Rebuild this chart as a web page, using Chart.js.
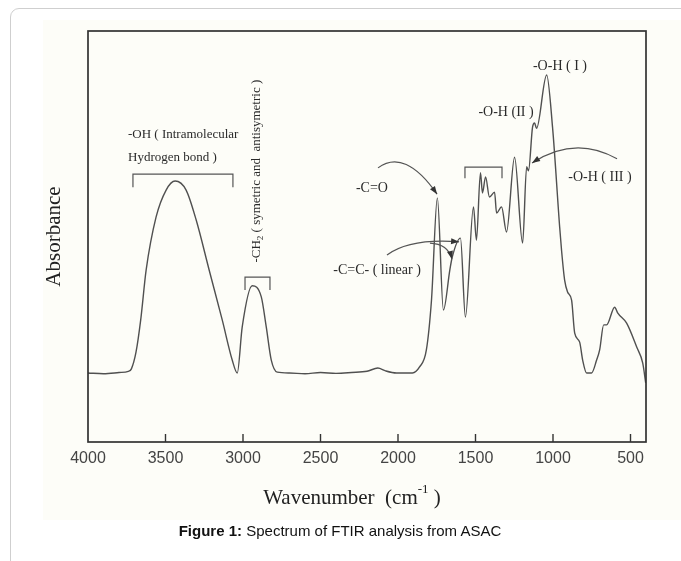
<!DOCTYPE html>
<html>
<head>
<meta charset="utf-8">
<script src="https://cdn.jsdelivr.net/npm/chart.js@4"></script>
<style>
body{margin:0;background:#fff;width:681px;height:561px;overflow:hidden;position:relative;font-family:"Liberation Sans",Arial,sans-serif}
#frame{position:absolute;left:10px;top:8px;width:720px;height:600px;border:1px solid #cfcfcf;border-radius:9px}
#paper{position:absolute;left:43px;top:20px;width:638px;height:500px;background:#fdfdf8}
#c{position:absolute;left:0;top:0}
#cap{position:absolute;left:0;width:680px;top:522px;text-align:center;font-size:15px;color:#111}
</style>
</head>
<body>
<div id="frame"></div>
<div id="paper"></div>
<canvas id="c" width="681" height="561"></canvas>
<div id="cap"><b>Figure 1:</b> Spectrum of FTIR analysis from ASAC</div>
<script>
// FTIR spectrum (wavenumber cm-1, absorbance a.u.)
let wavenumber=[4000,3900,3800,3740,3720,3690,3660,3625,3561,3496,3438,3367,3302,3218,3134,3070,3037,
3005,2941,2882,2850,2818,2779,2700,2600,2500,2400,2300,2200,2130,2080,2010,1907,1862,1817,1784,
1746,1707,1665,1650,1597,1565,1513,1494,1468,1455,1435,1410,1377,1364,1332,1300,1248,1196,1170,
1158,1132,1119,1106,1041,1003,957,945,925,906,880,860,828,809,783,751,718,699,673,654,602,583,525,460,421,402]
let absorbance=[16.8,16.6,16.9,17.2,17.8,21.9,29.7,41.8,54.7,61.3,63.5,61.3,54.0,41.8,29.7,20.0,16.8,
28.0,38.0,35.3,28.0,20.0,17.0,16.8,16.6,16.9,16.7,16.9,17.2,18.0,17.3,16.8,16.8,18.2,22.4,34.5,
59.4,32.1,42.0,45.0,49.6,30.4,57.2,49.1,65.5,60.6,64.5,59.6,60.8,55.7,57.2,51.1,69.3,48.4,67.0,
66.0,76.6,77.6,76.3,89.3,76.6,52.3,46.7,39.4,36.5,34.5,26.5,24.3,20.0,16.8,16.8,20.0,22.4,28.5,28.5,32.8,31.4,28.9,23.1,19.2,14.4]
let tickValues=[4000,3500,3000,2500,2000,1500,1000,500]

let serif='"Liberation Serif","Times New Roman",serif'

// labels, brackets and arrows, placed in data units
let notes={
texts:[
{t:"-OH ( Intramolecular",x:3742,y:74.7,align:"left",size:13},
{t:"Hydrogen bond )",x:3742,y:69.3,align:"left",size:13},
{t:"-C=O",x:2168,y:61.8,align:"center",size:14},
{t:"-C=C- ( linear )",x:2135,y:41.8,align:"center",size:14},
{t:"-O-H ( I )",x:955,y:91.5,align:"center",size:14},
{t:"-O-H (II )",x:1303,y:80.3,align:"center",size:14},
{t:"-O-H ( III )",x:697,y:64.5,align:"center",size:14}
],
brackets:[
{x1:3710,x2:3065,y:65.2,leg:62.0},
{x1:2987,x2:2826,y:40.1,leg:37.0},
{x1:1568,x2:1329,y:66.9,leg:64.2}
],
arrows:[
{p0:[2129,66.7],c:[1955,71.5],p1:[1748,60.3]},
{p0:[2071,45.5],c:[1923,49.6],p1:[1606,48.7]},
{p0:[1794,48.4],c:[1677,48.2],p1:[1652,44.5]},
{p0:[587,68.9],c:[858,74.7],p1:[1135,67.9]}
]
}

let decor={
id:"decor",
afterDraw(chart){
let ctx=chart.ctx
let a=chart.chartArea
let sx=chart.scales.x, sy=chart.scales.y
let X=v=>sx.getPixelForValue(v), Y=v=>sy.getPixelForValue(v)
ctx.save()
// frame
ctx.strokeStyle="#333"
ctx.lineWidth=1.7
ctx.strokeRect(a.left,a.top,a.right-a.left,a.bottom-a.top)
// inward ticks
ctx.lineWidth=1.4
tickValues.forEach(v=>{
if(v==sx.max) return
ctx.beginPath()
ctx.moveTo(X(v),a.bottom)
ctx.lineTo(X(v),a.bottom-8)
ctx.stroke()
})
// brackets
ctx.strokeStyle="#555"
ctx.lineWidth=1.2
notes.brackets.forEach(b=>{
ctx.beginPath()
ctx.moveTo(X(b.x1),Y(b.leg))
ctx.lineTo(X(b.x1),Y(b.y))
ctx.lineTo(X(b.x2),Y(b.y))
ctx.lineTo(X(b.x2),Y(b.leg))
ctx.stroke()
})
// arrows
ctx.fillStyle="#333"
notes.arrows.forEach(r=>{
let x0=X(r.p0[0]),y0=Y(r.p0[1]),cx=X(r.c[0]),cy=Y(r.c[1]),x1=X(r.p1[0]),y1=Y(r.p1[1])
ctx.beginPath()
ctx.moveTo(x0,y0)
ctx.quadraticCurveTo(cx,cy,x1,y1)
ctx.stroke()
let ang=Math.atan2(y1-cy,x1-cx)
ctx.beginPath()
ctx.moveTo(x1,y1)
ctx.lineTo(x1-8*Math.cos(ang)+3*Math.sin(ang),y1-8*Math.sin(ang)-3*Math.cos(ang))
ctx.lineTo(x1-8*Math.cos(ang)-3*Math.sin(ang),y1-8*Math.sin(ang)+3*Math.cos(ang))
ctx.closePath()
ctx.fill()
})
// text labels
ctx.fillStyle="#2a2a2a"
ctx.textBaseline="middle"
notes.texts.forEach(t=>{
ctx.font=t.size+"px "+serif
ctx.textAlign=t.align
ctx.fillText(t.t,X(t.x),Y(t.y))
})
// rotated CH2 label with subscript
ctx.save()
ctx.translate(X(2910),Y(65.9))
ctx.rotate(-Math.PI/2)
let p1="-CH", p2="2", p3=" ( symetric and  antisymetric )"
ctx.font="13px "+serif
let w1=ctx.measureText(p1).width, w3=ctx.measureText(p3).width
ctx.font="9px "+serif
let w2=ctx.measureText(p2).width
let start=-(w1+w2+w3)/2
ctx.textAlign="left"
ctx.font="13px "+serif
ctx.fillText(p1,start,0)
ctx.font="9px "+serif
ctx.fillText(p2,start+w1,4)
ctx.font="13px "+serif
ctx.fillText(p3,start+w1+w2,0)
ctx.restore()
// x axis title with superscript
ctx.fillStyle="#222"
let q1="Wavenumber  (cm", q2="-1", q3=" )"
ctx.font="21px "+serif
let v1=ctx.measureText(q1).width, v3=ctx.measureText(q3).width
ctx.font="13px "+serif
let v2=ctx.measureText(q2).width
let xs=352-(v1+v2+v3)/2, ty=498
ctx.textAlign="left"
ctx.font="21px "+serif
ctx.fillText(q1,xs,ty)
ctx.font="13px "+serif
ctx.fillText(q2,xs+v1,ty-8)
ctx.font="21px "+serif
ctx.fillText(q3,xs+v1+v2,ty)
ctx.restore()
}
}

new Chart(document.getElementById("c"),{
type:"line",
data:{
datasets:[{
data:wavenumber.map((w,i)=>({x:w,y:absorbance[i]})),
borderColor:"#505050",
borderWidth:1.4,
pointRadius:0,
cubicInterpolationMode:"monotone",
fill:false
}]
},
options:{
responsive:false,
animation:false,
layout:{padding:{top:31,right:35,left:0,bottom:0}},
plugins:{legend:{display:false},tooltip:{enabled:false}},
scales:{
x:{
type:"linear",reverse:true,min:400,max:4000,
afterBuildTicks:s=>{s.ticks=tickValues.map(v=>({value:v}))},
afterFit:s=>{s.height=119},
grid:{display:false,drawTicks:false},
border:{display:false},
ticks:{padding:7,color:"#444",maxRotation:0,autoSkip:false,callback:v=>String(v),font:{family:"Liberation Sans",size:16}}
},
y:{
min:0,max:100,
afterFit:s=>{s.width=88},
grid:{display:false,drawTicks:false},
border:{display:false},
ticks:{display:false},
title:{display:true,text:"Absorbance",color:"#222",padding:{top:42,bottom:0},font:{family:serif,size:21}}
}
}
},
plugins:[decor]
})
</script>
</body>
</html>
